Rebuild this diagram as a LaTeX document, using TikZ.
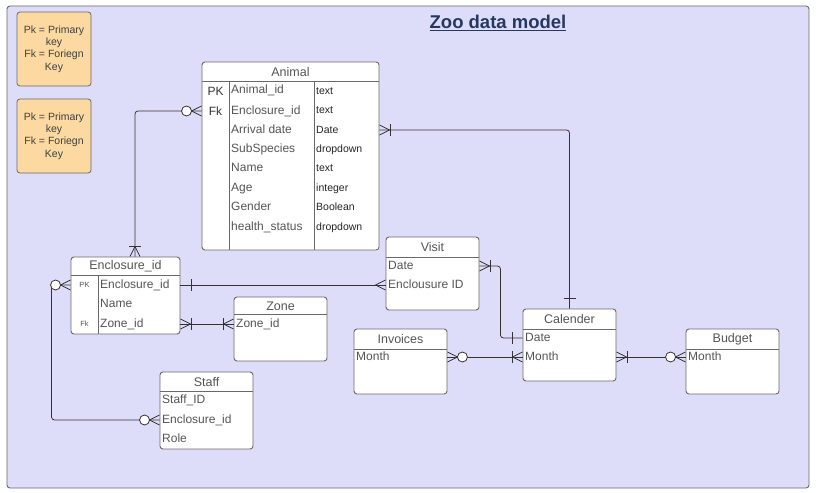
\documentclass[tikz,border=0pt]{standalone}
\usepackage{fontspec}
\setmainfont{Liberation Sans}
\usetikzlibrary{calc}
\definecolor{bgblue}{RGB}{221,221,250}
\definecolor{boxline}{RGB}{105,105,105}
\definecolor{txtgray}{RGB}{85,85,85}
\definecolor{keyfill}{RGB}{251,217,160}
\definecolor{navy}{RGB}{38,56,97}
\tikzset{
  tbl/.style={draw=boxline, fill=white, line width=0.9pt, rounded corners=3pt, inner sep=0pt},
  rowline/.style={draw=boxline, line width=0.9pt},
  keybox/.style={draw=boxline, fill=keyfill, line width=0.8pt, rounded corners=3pt, minimum width=74pt, minimum height=74pt, align=center, text=black!75, font=\fontsize{10.5}{12.4}\selectfont, inner sep=0pt},
  hd/.style={text=txtgray, font=\fontsize{12.5}{14}\selectfont, inner sep=0pt},
  fld/.style={anchor=west, text=txtgray, font=\fontsize{12}{14}\selectfont, inner sep=0pt, text height=8.5pt, text depth=2.5pt},
  typ/.style={anchor=west, text=black!85, font=\fontsize{10.5}{12}\selectfont, inner sep=0pt, text height=8pt, text depth=2.5pt},
  pkbig/.style={text=black!80, font=\fontsize{12}{14}\selectfont, inner sep=0pt},
  pksmall/.style={text=txtgray, font=\fontsize{7.5}{9}\selectfont, inner sep=0pt},
  rel/.style={draw=black!80, line width=0.8pt},
  crow/.pic={\draw[rel] (0,-5) -- (10,0) -- (0,5);},
  bar/.pic={\draw[rel] (10.5,-6) -- (10.5,6);},
  ring/.pic={\draw[rel, fill=white] (15,0) circle[radius=5pt];}
}
\begin{document}
\begin{tikzpicture}[x=1pt, y=-1pt]
  \useasboundingbox (0,0) rectangle (818,492);
  \draw[draw=boxline, fill=bgblue, line width=0.9pt, rounded corners=3pt] (7,6) rectangle (809,488);
  \node[text=navy, font=\bfseries\fontsize{18.5}{20}\selectfont] (title) at (498,23) {\underline{Zoo data model}};

  \node[keybox] (key1) at (54,49) {Pk = Primary\\key\\Fk = Foriegn\\Key};
  \node[keybox] (key2) at (54,136) {Pk = Primary\\key\\Fk = Foriegn\\Key};

  \node[tbl, minimum width=177pt, minimum height=188pt] (animal) at (290.5,156) {};
  \draw[rowline] (202,81) -- (379,81) (229,81) -- (229,250) (314,81) -- (314,250);
  \node[hd] (animal-h) at (290.5,72) {Animal};
  \node[pkbig] (a-pk) at (215.5,91) {PK};
  \node[pkbig] (a-fk) at (215.5,111) {Fk};
  \node[fld] (a-id) at (231,91) {Animal\_id};
  \node[fld] (a-encl) at (231,111) {Enclosure\_id};
  \node[fld] (a-arr) at (231,130) {Arrival date};
  \node[fld] (a-sub) at (231,149) {SubSpecies};
  \node[fld] (a-name) at (231,168) {Name};
  \node[fld] (a-age) at (231,188) {Age};
  \node[fld] (a-gender) at (231,207) {Gender};
  \node[fld] (a-health) at (231,227) {health\_status};
  \node[typ] (t-id) at (316,92) {text};
  \node[typ] (t-encl) at (316,111) {text};
  \node[typ] (t-arr) at (316,131) {Date};
  \node[typ] (t-sub) at (316,150) {dropdown};
  \node[typ] (t-name) at (316,169) {text};
  \node[typ] (t-age) at (316,189) {integer};
  \node[typ] (t-gender) at (316,208) {Boolean};
  \node[typ] (t-health) at (316,228) {dropdown};

  \node[tbl, minimum width=109pt, minimum height=77pt] (encl) at (125.5,295.5) {};
  \draw[rowline] (71,275) -- (180,275) (98,275) -- (98,334);
  \node[hd] (encl-h) at (125.5,266) {Enclosure\_id};
  \node[pksmall] (e-pk) at (84.5,285) {PK};
  \node[pksmall] (e-fk) at (84.5,324) {Fk};
  \node[fld] (e-id) at (100,285) {Enclosure\_id};
  \node[fld] (e-name) at (100,304) {Name};
  \node[fld] (e-zone) at (100,324) {Zone\_id};

  \node[tbl, minimum width=93pt, minimum height=64pt] (zone) at (280.5,329) {};
  \draw[rowline] (234,314) -- (327,314);
  \node[hd] (zone-h) at (280.5,306) {Zone};
  \node[fld] (z-id) at (236,324) {Zone\_id};

  \node[tbl, minimum width=93pt, minimum height=73pt] (visit) at (432.5,273.5) {};
  \draw[rowline] (386,257) -- (479,257);
  \node[hd] (visit-h) at (432.5,247) {Visit};
  \node[fld] (v-date) at (388,266) {Date};
  \node[fld] (v-encl) at (388,285) {Enclousure ID};

  \node[tbl, minimum width=93pt, minimum height=77pt] (staff) at (206.5,410.5) {};
  \draw[rowline] (160,391) -- (253,391);
  \node[hd] (staff-h) at (206.5,382) {Staff};
  \node[fld] (s-id) at (162,400) {Staff\_ID};
  \node[fld] (s-encl) at (162,420) {Enclosure\_id};
  \node[fld] (s-role) at (162,439) {Role};

  \node[tbl, minimum width=93pt, minimum height=65pt] (inv) at (400.5,361.5) {};
  \draw[rowline] (354,349) -- (447,349);
  \node[hd] (inv-h) at (400.5,339) {Invoices};
  \node[fld] (i-month) at (356,357) {Month};

  \node[tbl, minimum width=93pt, minimum height=72pt] (cal) at (569.5,345) {};
  \draw[rowline] (523,329) -- (616,329);
  \node[hd] (cal-h) at (569.5,319) {Calender};
  \node[fld] (c-date) at (525,338) {Date};
  \node[fld] (c-month) at (525,357) {Month};

  \node[tbl, minimum width=93pt, minimum height=65pt] (budget) at (732.5,361.5) {};
  \draw[rowline] (686,349) -- (779,349);
  \node[hd] (budget-h) at (732.5,339) {Budget};
  \node[fld] (b-month) at (688,357) {Month};

  \draw[rel, rounded corners=3pt] (animal.west |- a-encl) -| ([xshift=9.5pt]encl.north);
  \draw[rel, rounded corners=3pt] (animal.east |- a-arr) -| (cal.north);
  \draw[rel] (encl.east |- e-id) -- (visit.west |- v-encl);
  \draw[rel] (encl.east |- e-zone) -- (zone.west |- z-id);
  \draw[rel, rounded corners=3pt] (encl.west |- e-id) -- ++(-19,0) |- (staff.west |- s-encl);
  \draw[rel, rounded corners=3pt] (visit.east |- v-date) -- ++(21,0) |- (cal.west |- c-date);
  \draw[rel] (inv.east |- i-month) -- (cal.west |- c-month);
  \draw[rel] (cal.east |- c-month) -- (budget.west |- b-month);

  \path (animal.west |- a-encl) pic[rotate=180]{crow} pic[rotate=180]{ring};
  \path ([xshift=9.5pt]encl.north) pic[rotate=90]{crow} pic[rotate=90]{bar};
  \path (animal.east |- a-arr) pic{crow} pic{bar};
  \path (cal.north) pic[rotate=90]{bar};
  \path (encl.east |- e-id) pic{bar};
  \path (visit.west |- v-encl) pic[rotate=180]{crow};
  \path (encl.east |- e-zone) pic{crow} pic{bar};
  \path (zone.west |- z-id) pic[rotate=180]{crow} pic[rotate=180]{bar};
  \path (encl.west |- e-id) pic[rotate=180]{crow} pic[rotate=180]{ring};
  \path (staff.west |- s-encl) pic[rotate=180]{crow} pic[rotate=180]{ring};
  \path (visit.east |- v-date) pic{crow} pic{bar};
  \path (cal.west |- c-date) pic[rotate=180]{bar};
  \path (inv.east |- i-month) pic{crow} pic{ring};
  \path (cal.west |- c-month) pic[rotate=180]{crow} pic[rotate=180]{bar};
  \path (cal.east |- c-month) pic{crow} pic{bar};
  \path (budget.west |- b-month) pic[rotate=180]{crow} pic[rotate=180]{ring};
\end{tikzpicture}
\end{document}
